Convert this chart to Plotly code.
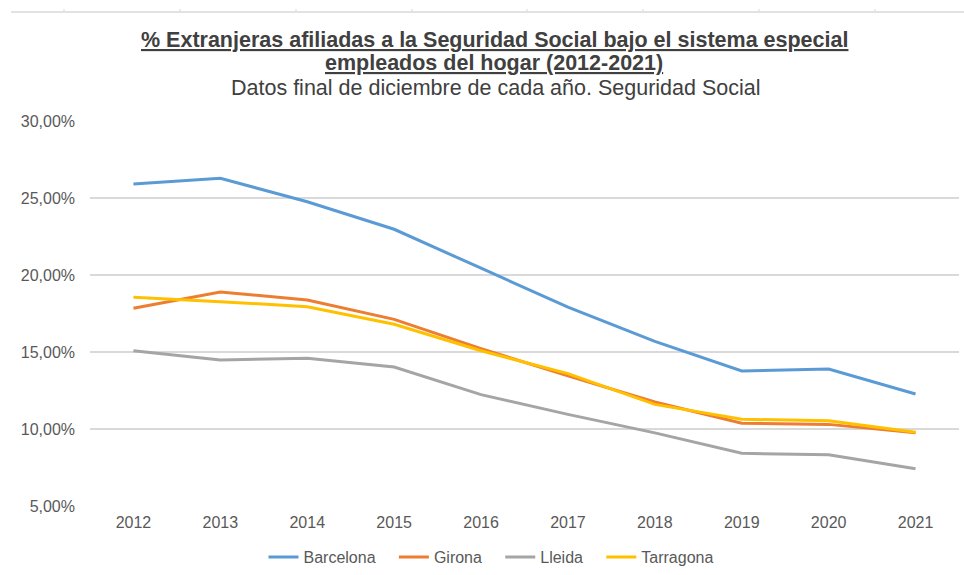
import plotly.graph_objects as go

years = ["2012", "2013", "2014", "2015", "2016", "2017", "2018", "2019", "2020", "2021"]
barcelona = [25.91, 26.28, 24.76, 22.97, 20.44, 17.91, 15.69, 13.77, 13.90, 12.27]
girona = [17.84, 18.90, 18.38, 17.12, 15.22, 13.45, 11.75, 10.37, 10.30, 9.76]
lleida = [15.08, 14.48, 14.59, 14.02, 12.23, 10.95, 9.75, 8.42, 8.33, 7.42]
tarragona = [18.55, 18.27, 17.94, 16.80, 15.08, 13.60, 11.60, 10.63, 10.54, 9.79]
y_ticks = [5, 10, 15, 20, 25, 30]
y_ticktext = ["5,00%", "10,00%", "15,00%", "20,00%", "25,00%", "30,00%"]

series = [
    ("Barcelona", barcelona, "#5B9BD5"),
    ("Girona", girona, "#ED7D31"),
    ("Lleida", lleida, "#A5A5A5"),
    ("Tarragona", tarragona, "#FFC000"),
]

FONT = "Liberation Sans, Arial, sans-serif"
fig = go.Figure()
for i, (name, vals, col) in enumerate(series):
    pad = "\u00a0\u00a0\u00a0" if i < len(series) - 1 else ""
    fig.add_trace(go.Scatter(x=years, y=vals, name=name + pad, mode="lines",
                             line=dict(color=col, width=3),
                             hovertemplate=name + ": %{y:.2f}%<extra></extra>"))

L, R, T, B = 90, 5, 121, 69
W, H = 964, 575
pw, ph = W - L - R, H - T - B

def px(x):
    return (x - L) / pw

def py(y):
    return (H - B - y) / ph

shapes = [dict(type="line", xref="paper", yref="paper", x0=px(11), x1=px(964),
               y0=py(12), y1=py(12), line=dict(color="#d9d9d9", width=1.5))]
for tx in [64, 180, 296, 412, 527, 643, 759, 875]:
    shapes.append(dict(type="line", xref="paper", yref="paper", x0=px(tx), x1=px(tx),
                       y0=py(9), y1=py(12), line=dict(color="#d9d9d9", width=1)))

fig.update_layout(
    width=W, height=H,
    margin=dict(l=L, r=R, t=T, b=B, autoexpand=False),
    paper_bgcolor="white", plot_bgcolor="white",
    font=dict(family=FONT, size=16, color="#595959"),
    showlegend=True,
    legend=dict(orientation="h", x=px(491), xanchor="center", y=py(557), yanchor="middle",
                font=dict(size=16, color="#595959"), itemwidth=30, tracegroupgap=0),
    xaxis=dict(type="category", range=[-0.5, 9.5], showgrid=False, zeroline=False,
               showline=False, ticks="", tickfont=dict(size=16, color="#595959"),
               ticklabelstandoff=5, automargin=False),
    yaxis=dict(range=[5, 30], tickvals=y_ticks, ticktext=y_ticktext,
               showgrid=True, gridcolor="#d9d9d9", gridwidth=1.5, zeroline=False,
               showline=False, ticks="", tickfont=dict(size=16, color="#595959"),
               ticklabelstandoff=14, automargin=False),
    shapes=shapes,
    annotations=[
        dict(text="<b><u>% Extranjeras afiliadas a la Seguridad Social bajo el sistema especial</u></b>",
             xref="paper", yref="paper", x=px(494), y=py(40), xanchor="center", yanchor="middle",
             showarrow=False, font=dict(size=21.5, color="#404040", family=FONT)),
        dict(text="<b><u>empleados del hogar (2012-2021)</u></b>",
             xref="paper", yref="paper", x=px(494), y=py(63), xanchor="center", yanchor="middle",
             showarrow=False, font=dict(size=21.5, color="#404040", family=FONT)),
        dict(text="Datos final de diciembre de cada año. Seguridad Social",
             xref="paper", yref="paper", x=px(495), y=py(88), xanchor="center", yanchor="middle",
             showarrow=False, font=dict(size=21.5, color="#404040", family=FONT)),
    ],
)

fig.write_html("out.html", config={"displayModeBar": False},
               post_script="document.body.style.margin='0';document.body.style.overflow='hidden';")
